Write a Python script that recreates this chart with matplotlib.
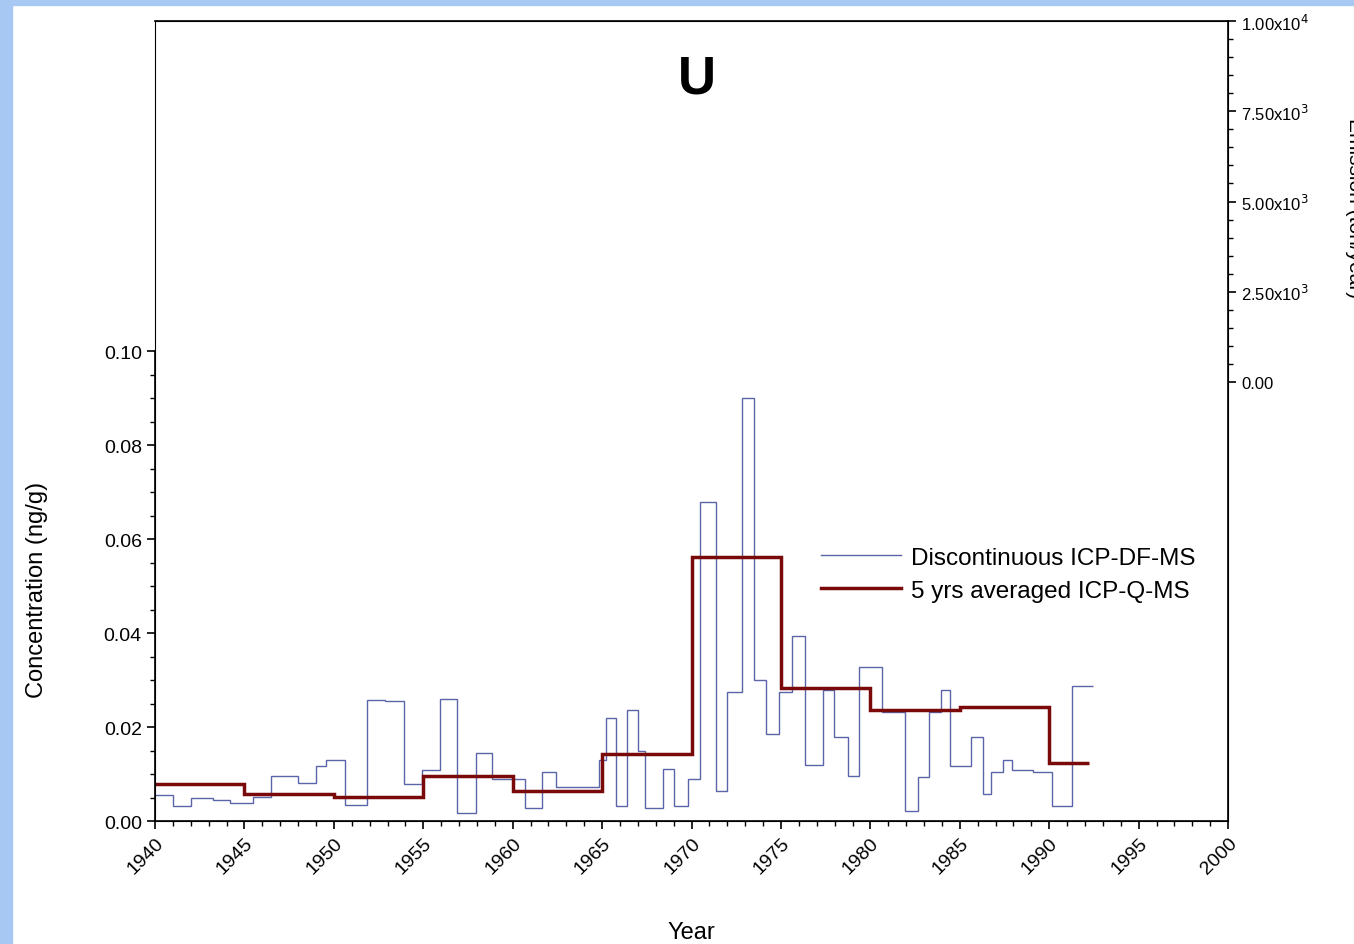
import matplotlib
matplotlib.use("Agg")
import matplotlib.pyplot as plt
import numpy as np
from matplotlib.patches import Rectangle

plt.rcParams["font.family"] = ["Liberation Sans", "DejaVu Sans"]

# Discontinuous ICP-DF-MS: step edges (years) and values (ng/g)
df_edges = [1940.0, 1940.98, 1942.0, 1943.23, 1944.2, 1945.48, 1946.5, 1948.02,
            1949.0, 1949.55, 1950.63, 1951.88, 1952.86, 1953.9, 1954.93, 1955.95,
            1956.87, 1957.95, 1958.85, 1960.7, 1961.62, 1962.4, 1964.8,
            1965.24, 1965.8, 1966.4, 1967.0, 1967.4, 1968.4, 1969.0, 1969.8,
            1970.5, 1971.34, 1972.0, 1972.84, 1973.49, 1974.18, 1974.89, 1975.63,
            1976.34, 1977.35, 1977.97, 1978.75, 1979.37, 1980.67, 1981.94, 1982.67,
            1983.25, 1983.94, 1984.46, 1985.62, 1986.31, 1986.77, 1987.43, 1987.91,
            1989.07, 1990.13, 1991.27, 1992.43]
df_vals = [0.0055, 0.0032, 0.0049, 0.0045, 0.0039, 0.0051, 0.0097, 0.0082,
           0.0118, 0.0131, 0.0035, 0.0258, 0.0255, 0.0080, 0.0108, 0.0259,
           0.0018, 0.0146, 0.0089, 0.0028, 0.0104, 0.0073, 0.0130,
           0.0219, 0.0032, 0.0236, 0.0149, 0.0028, 0.0111, 0.0032, 0.0090,
           0.0679, 0.0064, 0.0274, 0.0900, 0.0300, 0.0185, 0.0274, 0.0393,
           0.0119, 0.0280, 0.0179, 0.0096, 0.0328, 0.0232, 0.0021, 0.0094,
           0.0232, 0.0279, 0.0117, 0.0179, 0.0057, 0.0104, 0.0130, 0.0108,
           0.0104, 0.0032, 0.0287]

# 5 yrs averaged ICP-Q-MS
q_edges = [1940, 1945, 1950, 1955, 1960, 1965, 1970, 1975, 1980, 1985, 1990, 1992.2]
q_vals = [0.0080, 0.0058, 0.0052, 0.0095, 0.0065, 0.0143, 0.0561, 0.0284,
          0.0236, 0.0242, 0.0123]

fig = plt.figure(figsize=(13.54, 9.45), dpi=100)
fig.patch.set_facecolor("white")
fig.patches.append(Rectangle((0, 0), 0.009, 1, transform=fig.transFigure,
                             color="#a6c8f2", zorder=0))
fig.patches.append(Rectangle((0, 0.994), 1, 0.006, transform=fig.transFigure,
                             color="#a6c8f2", zorder=0))

ax = fig.add_axes([0.1145, 0.130, 0.7925, 0.8467])
ax.stairs(df_vals, df_edges, baseline=None, color="#5a64a8", lw=1.0,
          label="Discontinuous ICP-DF-MS")
ax.stairs(q_vals, q_edges, baseline=None, color="#7a0a0a", lw=2.5,
          label="5 yrs averaged ICP-Q-MS")

ax.set_xlim(1940, 2000)
ax.set_ylim(0, 0.1702)
ax.set_yticks(np.arange(0, 0.101, 0.02))
ax.set_yticks(np.arange(0, 0.101, 0.005), minor=True)
ax.set_yticklabels([f"{v:.2f}" for v in np.arange(0, 0.101, 0.02)])
ax.set_xticks(range(1940, 2001, 5))
ax.set_xticks(range(1940, 2001, 1), minor=True)
ax.set_xticklabels([str(y) for y in range(1940, 2001, 5)], rotation=45,
                   ha="right", va="top", rotation_mode="anchor")
ax.tick_params(axis="both", which="major", labelsize=14, length=6, width=1.2,
               colors="black")
ax.tick_params(axis="both", which="minor", length=3.5, width=1.0)
ax.spines["left"].set_bounds(0, 0.10)
for s in ax.spines.values():
    s.set_linewidth(1.2)
ax.set_xlabel("Year", fontsize=17)
ax.xaxis.set_label_coords(0.500, -0.125)
ax.set_ylabel("Concentration (ng/g)", fontsize=17)
ax.yaxis.set_label_coords(-0.1, 0.29)
ax.text(0.505, 0.96, "U", transform=ax.transAxes, ha="center", va="top",
        fontsize=38, fontweight="bold")

ax2 = ax.twinx()
ax2.set_ylim(-12161, 10000)
rt = [0, 2500, 5000, 7500, 10000]
ax2.set_yticks(rt)
ax2.set_yticks(np.arange(0, 10001, 500), minor=True)
ax2.set_yticklabels(["0.00", r"2.50x10$^{3}$", r"5.00x10$^{3}$",
                     r"7.50x10$^{3}$", r"1.00x10$^{4}$"])
ax2.tick_params(axis="y", which="major", labelsize=12, length=6, width=1.2)
ax2.tick_params(axis="y", which="minor", length=3.5, width=1.0)
fig.text(0.993, 0.78, "Emission (ton/year)", rotation=-90, ha="left",
         va="center", fontsize=15)

ax.legend(loc="upper left", bbox_to_anchor=(0.6, 0.37), frameon=False,
          fontsize=17.5, handlelength=3.3, labelspacing=0.45, handletextpad=0.4)

fig.savefig("out.png", facecolor=fig.get_facecolor())
